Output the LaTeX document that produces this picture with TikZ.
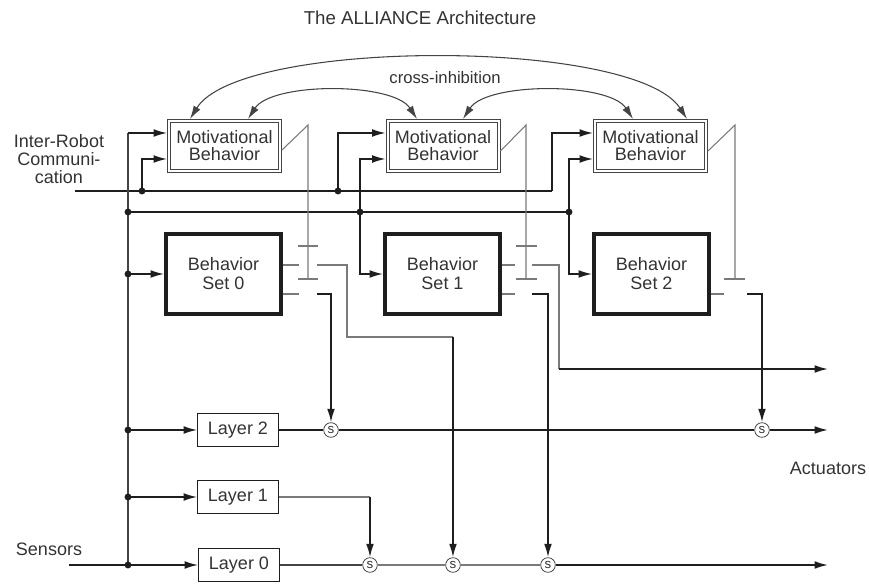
\documentclass[tikz,border=0pt]{standalone}
\usepackage{fontspec}
\setmainfont{Liberation Sans}
\usetikzlibrary{arrows.meta,calc}

\definecolor{ink}{HTML}{1E1E1E}
\definecolor{darkw}{HTML}{444444}
\definecolor{grayw}{HTML}{7A7A7A}
\definecolor{txtc}{HTML}{333333}

\begin{document}
\begin{tikzpicture}[x=0.75pt,y=-0.75pt,
  tip/.tip={Latex[length=10pt,width=5.8pt]},
  lbl/.style={text=txtc, font=\fontsize{13.5}{13.3}\selectfont, inner sep=0pt},
  motbox/.style={draw=darkw, line width=0.7pt,
    minimum width=85.5pt, minimum height=39.8pt, inner sep=0pt, align=center,
    text=txtc, font=\fontsize{13.5}{12.8}\selectfont},
  motinner/.style={draw=darkw, line width=0.7pt},
  setbox/.style={draw=ink, line width=3pt, minimum width=86.2pt, minimum height=60.7pt,
    inner sep=0pt, align=center, text=txtc, font=\fontsize{13.5}{14.3}\selectfont},
  layerbox/.style={draw=ink, line width=0.7pt, minimum width=60.7pt, minimum height=24.7pt,
    inner sep=0pt, text=txtc, font=\fontsize{13.5}{14}\selectfont},
  sbox/.style={circle, draw=darkw, fill=white, line width=0.6pt, minimum size=11pt,
    inner sep=0pt, text=txtc, font=\fontsize{10}{10}\selectfont},
  wblack/.style={draw=ink, line width=0.8pt},
  wdark/.style={draw=darkw, line width=0.8pt},
  wgray/.style={draw=grayw, line width=0.8pt},
  warr/.style={draw=ink, line width=1.1pt, -tip},
  wheavy/.style={draw=ink, line width=1.3pt},
  wheavyarr/.style={draw=ink, line width=1.3pt, -tip},
  inh/.style={draw=darkw, line width=0.8pt, tip-tip},
  jdot/.style={fill=ink}
]
\useasboundingbox (0,0) rectangle (869,588);

% ---------- labels ----------
\node[lbl, font=\fontsize{14}{14}\selectfont] (title) at (420,18) {The ALLIANCE Architecture};
\node[lbl, font=\fontsize{12.5}{12.5}\selectfont] (cilabel) at (445,78) {cross-inhibition};
\node[lbl, align=center] (irclabel) at (59,159) {Inter-Robot\\Communi-\\cation};
\node[lbl] (senslabel) at (49,549) {Sensors};
\node[lbl] (actlabel) at (828,468) {Actuators};

% ---------- motivational behaviors (double frame) ----------
\node[motbox] (mb0) at (224.5,146) {Motivational\\Behavior};
\node[motbox] (mb1) at (443,146) {Motivational\\Behavior};
\node[motbox] (mb2) at (650.5,146) {Motivational\\Behavior};
\foreach \m in {mb0,mb1,mb2}
  \draw[motinner] ($(\m.south west)+(3.5,-3.5)$) rectangle ($(\m.north east)+(-3.5,3.5)$);

% ---------- behavior sets ----------
\node[setbox] (bs0) at (223.5,274) {Behavior\\Set 0};
\node[setbox] (bs1) at (442.5,274) {Behavior\\Set 1};
\node[setbox] (bs2) at (651.5,274) {Behavior\\Set 2};

% ---------- layers ----------
\node[layerbox] (l2) at (238,430) {Layer 2};
\node[layerbox] (l1) at (238,497) {Layer 1};
\node[layerbox] (l0) at (239,565) {Layer 0};

% ---------- suppression nodes ----------
\node[sbox] (sa) at (331,430) {s};
\node[sbox] (sb) at (762,430) {s};
\node[sbox] (sc) at (370,565) {s};
\node[sbox] (sd) at (453,565) {s};
\node[sbox] (se) at (548,565) {s};

% ---------- named points ----------
\coordinate (upIn) at (0,133);
\coordinate (lowIn) at (0,159);
\coordinate (cTop) at (0,265);
\coordinate (cBot) at (0,294);
\coordinate (irc) at (75,191);
\coordinate (sen) at (69,565);
\coordinate (busTop) at (128,133);
\coordinate (busBot) at (128,565);
\coordinate (j0) at (142,191);
\coordinate (j1) at (338,191);
\coordinate (j2) at (552,191);
\coordinate (b0) at (128,212);
\coordinate (b1) at (360,212);
\coordinate (b2) at (569,212);
\coordinate (act1) at (828,369);
\coordinate (act2) at (828,430);
\coordinate (act0) at (828,565);

% ---------- communication line and sensor bus ----------
\draw[wblack] (irc) -- (j2);
\draw[wblack] (b0) -- (b2);
\draw[wdark] (busTop) -- (busBot);
\draw[wheavy] (sen) -- (busBot);

\draw[warr] (busTop) -- (mb0.west |- upIn);
\draw[warr] (j0) |- (mb0.west |- lowIn);
\draw[warr] (j1) |- (mb1.west |- upIn);
\draw[warr] (b1) |- (mb1.west |- lowIn);
\draw[warr] (j2) |- (mb2.west |- upIn);
\draw[warr] (b2) |- (mb2.west |- lowIn);

\draw[warr] (busBot |- bs0.west) -- (bs0.west);
\draw[warr] (b1) |- (bs1.west);
\draw[warr] (b2) |- (bs2.west);
\draw[warr] (busBot |- l2.west) -- (l2.west);
\draw[warr] (busBot |- l1.west) -- (l1.west);
\draw[warr] (busBot) -- (l0.west);

\foreach \p in {j0,j1,b0,b1,b2,busBot}
  \fill[jdot] (\p) circle (2.6pt);
\fill[jdot] (busBot |- bs0.west) circle (2.6pt);
\fill[jdot] (busBot |- l2.west) circle (2.6pt);
\fill[jdot] (busBot |- l1.west) circle (2.6pt);

% ---------- cross-inhibition ----------
\draw[inh] ($(mb0.north)+(-34.5,0)$) .. controls (240,38) and (635,38) .. ($(mb2.north)+(36.5,0)$);
\draw[inh] ($(mb0.north)+(23.5,0)$) .. controls (272,82) and (393,82) .. ($(mb1.north)+(-26,0)$);
\draw[inh] ($(mb1.north)+(20,0)$) .. controls (487,82) and (609,82) .. ($(mb2.north)+(-17.5,0)$);

% ---------- switch of behavior set 0 ----------
\draw[wgray] ($(mb0.east)+(0,4)$) -- (308,125) -- (308,279);
\draw[wgray] (298,246) -- (318,246);
\draw[wgray] (298,279) -- (318,279);
\draw[wgray] (bs0.east |- cTop) -- (299,265);
\draw[wgray] (bs0.east |- cBot) -- (299,294);
\draw[wgray] (317,265) -| (347,337) -- (453,337);
\draw[wheavyarr] (453,337) -- (sd.north);
\draw[wheavyarr] (317,294) -| (sa.north);

% ---------- switch of behavior set 1 ----------
\draw[wgray] ($(mb1.east)+(0,5)$) -- (526,125) -- (526,279);
\draw[wgray] (516,246) -- (537,246);
\draw[wgray] (516,279) -- (537,279);
\draw[wgray] (bs1.east |- cTop) -- (515,265);
\draw[wgray] (bs1.east |- cBot) -- (515,294);
\draw[wgray] (532,265) -| (559,369);
\draw[wheavyarr] (559,369) -- (act1);
\draw[wheavyarr] (532,294) -| (se.north);

% ---------- switch of behavior set 2 ----------
\draw[wgray] ($(mb2.east)+(0,5)$) -- (735,125) -- (735,279);
\draw[wgray] (724,279) -- (745,279);
\draw[wgray] (bs2.east |- cBot) -- (724,294);
\draw[wheavyarr] (747,294) -| (sb.north);

% ---------- layer outputs ----------
\draw[wheavy] (l2.east) -- (sa);
\draw[wheavy] (sa) -- (sb);
\draw[wheavyarr] (sb) -- (act2);
\draw[wgray] (l1.east) -- (370,497);
\draw[wheavyarr] (370,497) -- (sc.north);
\draw[wdark] (l0.east) -- (sc);
\draw[wgray] (sc) -- (sd);
\draw[wgray] (sd) -- (se);
\draw[wheavyarr] (se) -- (act0);
\end{tikzpicture}
\end{document}
